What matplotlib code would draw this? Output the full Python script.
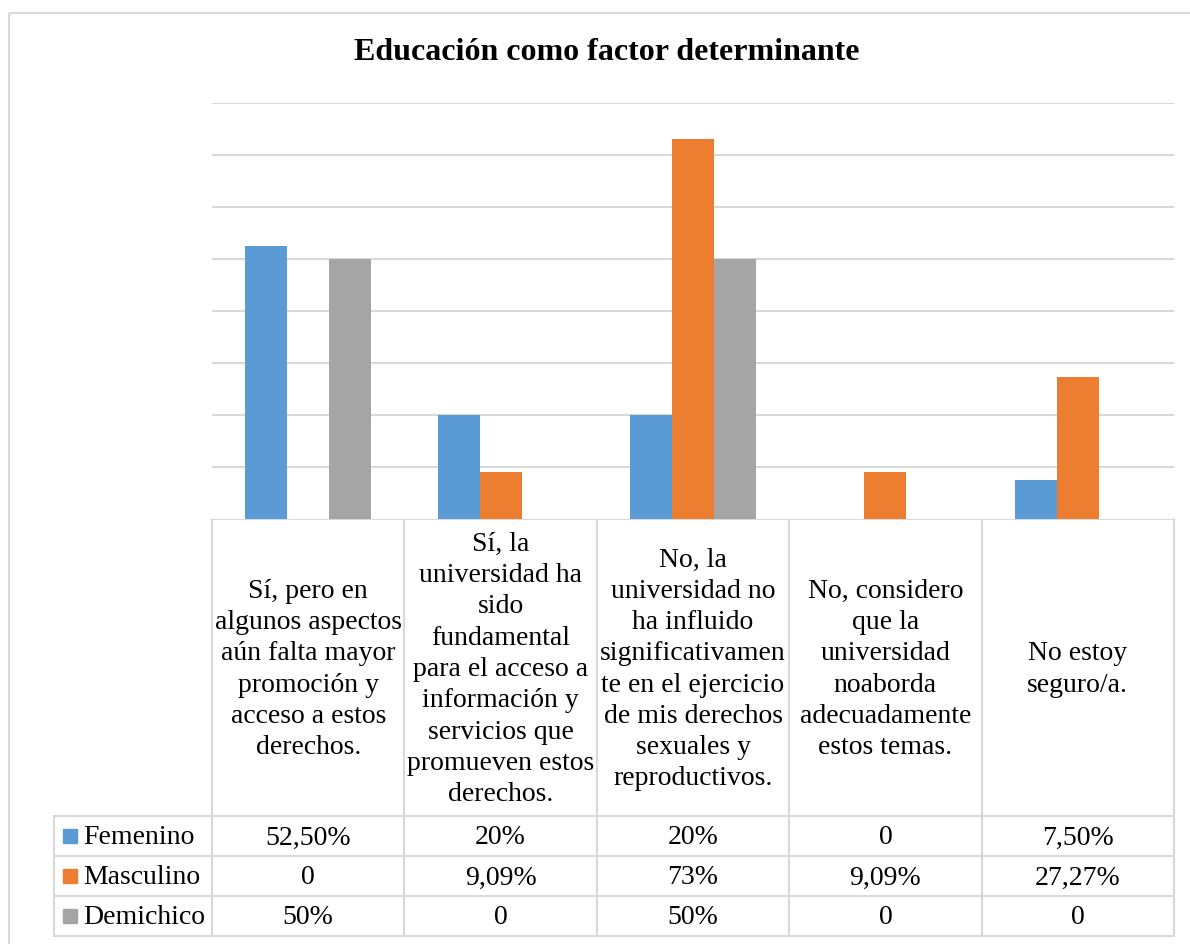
import matplotlib.pyplot as plt
from matplotlib.lines import Line2D
from matplotlib.patches import Rectangle

plt.rcParams['font.family'] = ['Liberation Serif', 'DejaVu Serif']

# Datos
categorias = [
    "Sí, pero en\nalgunos aspectos\naún falta mayor\npromoción y\nacceso a estos\nderechos.",
    "Sí, la\nuniversidad ha\nsido\nfundamental\npara el acceso a\ninformación y\nservicios que\npromueven estos\nderechos.",
    "No, la\nuniversidad no\nha influido\nsignificativamen\nte en el ejercicio\nde mis derechos\nsexuales y\nreproductivos.",
    "No, considero\nque la\nuniversidad\nnoaborda\nadecuadamente\nestos temas.",
    "No estoy\nseguro/a.",
]
series = ["Femenino", "Masculino", "Demichico"]
femenino = [52.5, 20, 20, 0, 7.5]
masculino = [0, 9.09, 73, 9.09, 27.27]
demichico = [50, 0, 50, 0, 0]
etiq_femenino = ["52,50%", "20%", "20%", "0", "7,50%"]
etiq_masculino = ["0", "9,09%", "73%", "9,09%", "27,27%"]
etiq_demichico = ["50%", "0", "50%", "0", "0"]
colores = ["#5B9BD5", "#ED7D31", "#A5A5A5"]

W, H = 1190, 944
fig = plt.figure(figsize=(W / 100, H / 100), dpi=100)

# capa de fondo en pixeles para la tabla
bg = fig.add_axes([0, 0, 1, 1])
bg.set_xlim(0, W)
bg.set_ylim(H, 0)
bg.axis("off")

linea = "#D9D9D9"
bg.add_patch(Rectangle((9, 13), W + 20, H + 20, fill=False, edgecolor=linea, lw=1.5))

# area del grafico
x0, x1 = 212, 1174
y_top, y_base = 103, 519
ax = fig.add_axes([x0 / W, 1 - y_base / H, (x1 - x0) / W, (y_base - y_top) / H])
n = len(categorias)
ancho = 0.218
for i, (vals, c) in enumerate(zip([femenino, masculino, demichico], colores)):
    ax.bar([k + (i - 1) * ancho for k in range(n)], vals, width=ancho, color=c, zorder=3)
ax.set_xlim(-0.5, n - 0.5)
ax.set_ylim(0, 80)
ax.set_yticks(range(10, 81, 10))
ax.yaxis.grid(True, color=linea, lw=1.5, zorder=0)
ax.set_xticks([])
ax.tick_params(left=False, labelleft=False)
for s in ax.spines.values():
    s.set_visible(False)

fig.text(607 / W, 1 - 53 / H, "Educación como factor determinante",
         ha="center", va="center", fontsize=23, fontweight="bold")

# tabla de datos
col_w = (x1 - x0) / n
filas = [816, 856, 896, 936]
lx = 54
fs = 20
bg.add_line(Line2D([x0, x1], [y_base, y_base], color=linea, lw=1.5))
for yy in filas:
    bg.add_line(Line2D([lx, x1], [yy, yy], color=linea, lw=1.5))
for k in range(n + 1):
    xx = x0 + k * col_w
    bg.add_line(Line2D([xx, xx], [y_base, filas[-1]], color=linea, lw=1.5))
bg.add_line(Line2D([lx, lx], [filas[0], filas[-1]], color=linea, lw=1.5))

for k, cat in enumerate(categorias):
    bg.text(x0 + (k + 0.5) * col_w, (y_base + filas[0]) / 2 + 2, cat, ha="center", va="center",
            multialignment="center", fontsize=fs, linespacing=1.33)

for r, (nombre, etiq, c) in enumerate(zip(series, [etiq_femenino, etiq_masculino, etiq_demichico], colores)):
    yc = (filas[r] + filas[r + 1]) / 2 + 2
    bg.add_patch(Rectangle((63, yc - 9), 14, 14, color=c))
    bg.text(83, yc, nombre, ha="left", va="center", fontsize=fs)
    for k, t in enumerate(etiq):
        bg.text(x0 + (k + 0.5) * col_w, yc, t, ha="center", va="center", fontsize=fs)

fig.savefig("out.png", dpi=100)
